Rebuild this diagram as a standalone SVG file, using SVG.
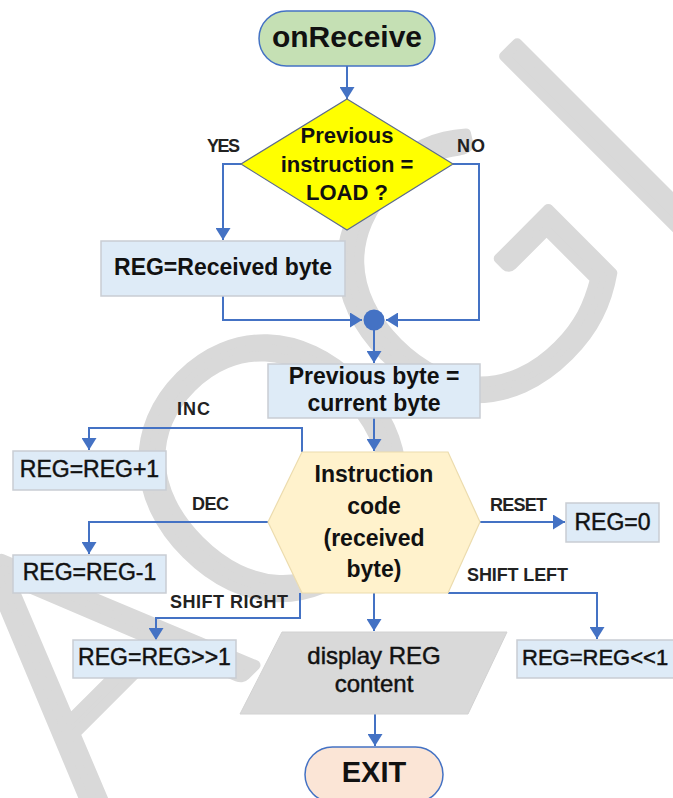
<svg xmlns="http://www.w3.org/2000/svg" width="673" height="798" viewBox="0 0 673 798">
  <defs>
    <marker id="arrow" markerUnits="userSpaceOnUse" markerWidth="12" markerHeight="15" refX="12" refY="7.5" orient="auto">
      <path d="M0,0 L12,7.5 L0,15 Z" fill="#4472c4"/>
    </marker>
    <style>
      .edge { fill: none; stroke: #4472c4; stroke-width: 2; marker-end: url(#arrow); }
      .box { fill: #deebf7; stroke: #c9cdd3; stroke-width: 1.5; }
      .pill { stroke: #4472c4; stroke-width: 1.5; }
      .t { font-family: "Liberation Sans", Arial, sans-serif; fill: #111; text-anchor: middle; }
      .b { font-weight: bold; }
      .r { stroke: #111; stroke-width: 0.45; }
      .lbl { font-family: "Liberation Sans", Arial, sans-serif; font-weight: bold; font-size: 18px; fill: #222; text-anchor: middle; }
      .mark { font-family: Lato, "Open Sans", "Liberation Sans", sans-serif; font-weight: 300; font-size: 360px;
              fill: #d9d9d9; stroke: #d9d9d9; stroke-width: 10; stroke-linejoin: round; }
    </style>
  </defs>

  <rect width="673" height="798" fill="#ffffff"/>

  <!-- background watermark, running diagonally up to the right -->
  <g id="watermark" transform="rotate(-45)">
    <text class="mark" x="-1241 -1001 -761 -521 -281 -1 279 479 759" y="651">PAPAOGLOU</text>
  </g>

  <!-- connectors -->
  <g id="connectors">
    <path class="edge" d="M347,66 V99"/>
    <path class="edge" d="M241,164 H223 V240"/>
    <path class="edge" d="M453,164 H479 V320 H386"/>
    <path class="edge" d="M223,296 V320 H362"/>
    <path class="edge" d="M374,330 V363"/>
    <path class="edge" d="M374,418 V451"/>
    <path class="edge" d="M302,452 V428 H89 V450"/>
    <path class="edge" d="M268,522 H89 V554"/>
    <path class="edge" d="M480,522 H565"/>
    <path class="edge" d="M448,593 H597 V639"/>
    <path class="edge" d="M300,593 V618 H156 V640"/>
    <path class="edge" d="M374,593 V631"/>
    <path class="edge" d="M375,714 V746"/>
    <circle id="merge" cx="374" cy="320" r="10.5" fill="#4472c4"/>
  </g>

  <!-- edge labels -->
  <g id="labels">
    <text class="lbl" x="223.5" y="152" textLength="33">YES</text>
    <text class="lbl" x="471" y="152" textLength="28">NO</text>
    <text class="lbl" x="193.5" y="415" textLength="33">INC</text>
    <text class="lbl" x="210.5" y="510" textLength="37">DEC</text>
    <text class="lbl" x="518.5" y="511" textLength="57">RESET</text>
    <text class="lbl" x="517.5" y="581" textLength="101">SHIFT LEFT</text>
    <text class="lbl" x="229" y="608" textLength="118">SHIFT RIGHT</text>
  </g>

  <g id="start">
    <rect class="pill" x="259" y="11" width="176" height="55" rx="27.5" fill="#c5e0b4"/>
    <text class="t b" x="347" y="47" font-size="30">onReceive</text>
  </g>

  <g id="check-load">
    <polygon points="347,99 453,164 347,230 241,164" fill="#ffff00" stroke="#5d6c8c" stroke-width="1.2"/>
    <text class="t b" x="347" y="143" font-size="22">Previous</text>
    <text class="t b" x="347" y="172" font-size="22">instruction =</text>
    <text class="t b" x="347" y="200" font-size="22">LOAD ?</text>
  </g>

  <g id="load-reg">
    <rect class="box" x="101" y="241" width="244" height="55"/>
    <text class="t b" x="223" y="275" font-size="23">REG=Received byte</text>
  </g>

  <g id="save-prev">
    <rect class="box" x="268" y="364" width="212" height="54"/>
    <text class="t b" x="374" y="384" font-size="23">Previous byte =</text>
    <text class="t b" x="374" y="411" font-size="23">current byte</text>
  </g>

  <g id="decode">
    <polygon points="302,452 448,452 480,522 448,593 302,593 268,522" fill="#fff2cc" stroke="#ecdcae" stroke-width="1.2"/>
    <text class="t b" x="374" y="482" font-size="23">Instruction</text>
    <text class="t b" x="374" y="514" font-size="23">code</text>
    <text class="t b" x="374" y="546" font-size="23">(received</text>
    <text class="t b" x="374" y="577" font-size="23">byte)</text>
  </g>

  <g id="inc">
    <rect class="box" x="13" y="451" width="153" height="39"/>
    <text class="t r" x="89.5" y="477" font-size="23">REG=REG+1</text>
  </g>

  <g id="dec">
    <rect class="box" x="13" y="555" width="153" height="38"/>
    <text class="t r" x="89.5" y="580" font-size="23">REG=REG-1</text>
  </g>

  <g id="reset">
    <rect class="box" x="566" y="503" width="93" height="39"/>
    <text class="t r" x="612.5" y="530" font-size="23">REG=0</text>
  </g>

  <g id="shift-right">
    <rect class="box" x="73" y="640" width="163" height="38"/>
    <text class="t r" x="154.5" y="665" font-size="23">REG=REG&gt;&gt;1</text>
  </g>

  <g id="shift-left">
    <rect class="box" x="517" y="640" width="170" height="38"/>
    <text class="t r" x="522" y="665" font-size="22" style="text-anchor:start">REG=REG&lt;&lt;1</text>
  </g>

  <g id="display">
    <polygon points="282,632 507,632 468,714 240,714" fill="#d9d9d9" stroke="#d2d2d2" stroke-width="1"/>
    <text class="t r" x="374" y="664" font-size="24">display REG</text>
    <text class="t r" x="374" y="692" font-size="24">content</text>
  </g>

  <g id="exit">
    <rect class="pill" x="305" y="747" width="138" height="55" rx="27.5" fill="#fbe5d6"/>
    <text class="t b" x="374" y="782" font-size="29">EXIT</text>
  </g>
</svg>
